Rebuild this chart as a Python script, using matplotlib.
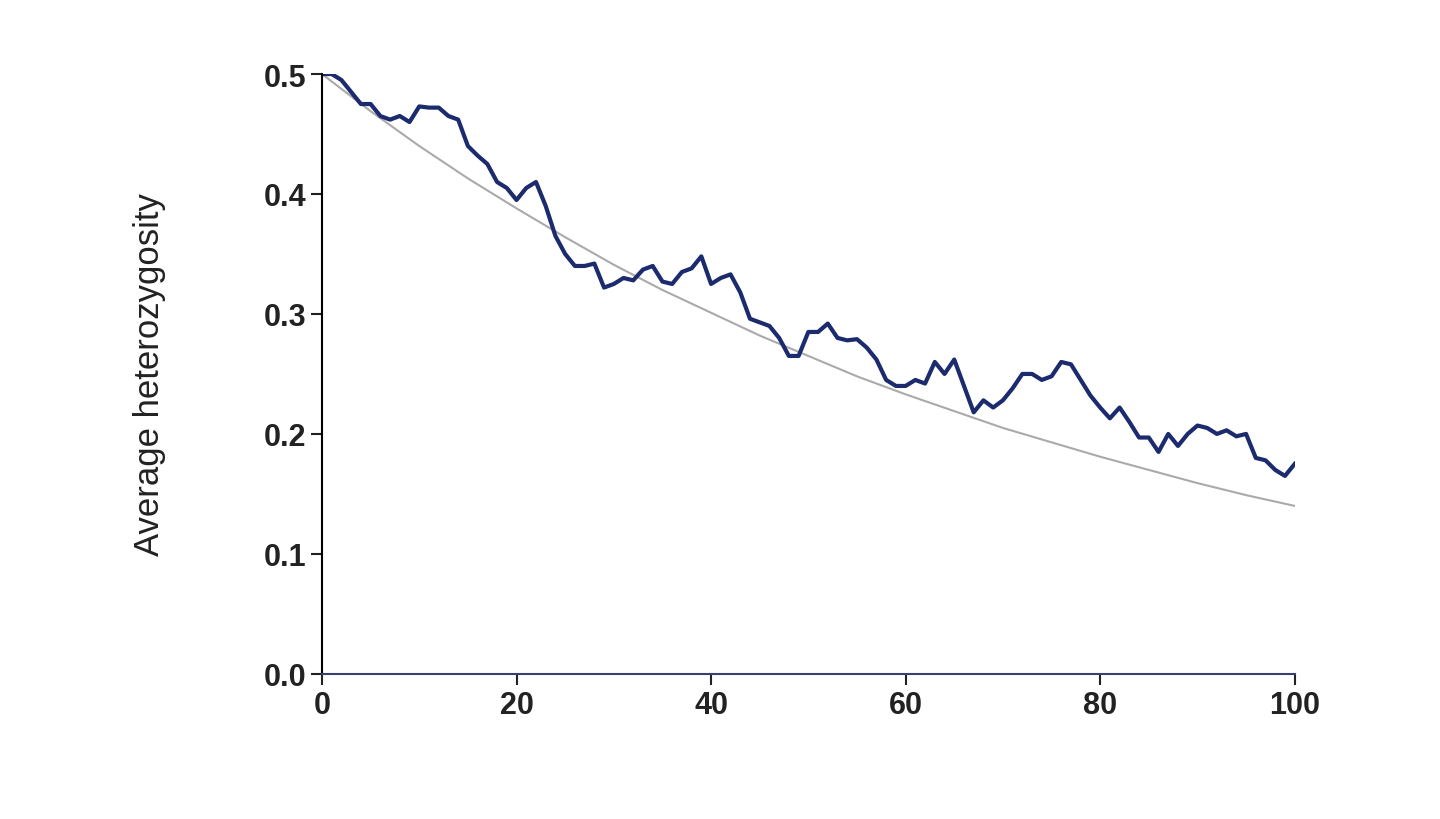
import matplotlib.pyplot as plt

plt.rcParams['font.family'] = ['Liberation Sans', 'DejaVu Sans']

generations = list(range(101))
heterozygosity = [0.5, 0.5, 0.495, 0.485, 0.475, 0.475, 0.465, 0.462, 0.465, 0.46,
                  0.473, 0.472, 0.472, 0.465, 0.462, 0.44, 0.432, 0.425, 0.41, 0.405,
                  0.395, 0.405, 0.41, 0.39, 0.365, 0.35, 0.34, 0.34, 0.342, 0.322,
                  0.325, 0.33, 0.328, 0.337, 0.34, 0.327, 0.325, 0.335, 0.338, 0.348,
                  0.325, 0.33, 0.333, 0.318, 0.296, 0.293, 0.29, 0.28, 0.265, 0.265,
                  0.285, 0.285, 0.292, 0.28, 0.278, 0.279, 0.272, 0.262, 0.245, 0.24,
                  0.24, 0.245, 0.242, 0.26, 0.25, 0.262, 0.24, 0.218, 0.228, 0.222,
                  0.228, 0.238, 0.25, 0.25, 0.245, 0.248, 0.26, 0.258, 0.245, 0.232,
                  0.222, 0.213, 0.222, 0.21, 0.197, 0.197, 0.185, 0.2, 0.19, 0.2,
                  0.207, 0.205, 0.2, 0.203, 0.198, 0.2, 0.18, 0.178, 0.17, 0.165, 0.175]
expected_t = [0, 5, 10, 15, 20, 25, 30, 35, 40, 45, 50, 55, 60, 65, 70, 75, 80, 85, 90, 95, 100]
expected_h = [0.5, 0.469, 0.440, 0.413, 0.388, 0.364, 0.341, 0.320, 0.301, 0.282, 0.265,
              0.248, 0.233, 0.219, 0.205, 0.193, 0.181, 0.170, 0.159, 0.149, 0.140]

fig = plt.figure(figsize=(14.4, 8.2), dpi=100)
ax = fig.add_axes([0.2236, 0.177, 0.6755, 0.7315])
ax.plot(expected_t, expected_h, color='#aaaaaa', lw=1.5)
ax.plot(generations, heterozygosity, color='#1c2a6e', lw=3)
ax.set_xlim(0, 100)
ax.set_ylim(0, 0.5)
ax.set_xticks([0, 20, 40, 60, 80, 100])
ax.set_yticks([0, 0.1, 0.2, 0.3, 0.4, 0.5])
ax.set_yticklabels(['0.0', '0.1', '0.2', '0.3', '0.4', '0.5'])
for s in ['top', 'right']:
    ax.spines[s].set_visible(False)
ax.spines['left'].set_linewidth(1.5)
ax.spines['bottom'].set_linewidth(1.5)
ax.spines['bottom'].set_color('#3a4070')
ax.tick_params(labelsize=22, width=1.5, length=8, colors='#222222')
for lab in ax.get_xticklabels() + ax.get_yticklabels():
    lab.set_fontweight('bold')
ax.set_ylabel('Average heterozygosity', fontsize=25, labelpad=70, color='#222222')
fig.savefig('out.png')
